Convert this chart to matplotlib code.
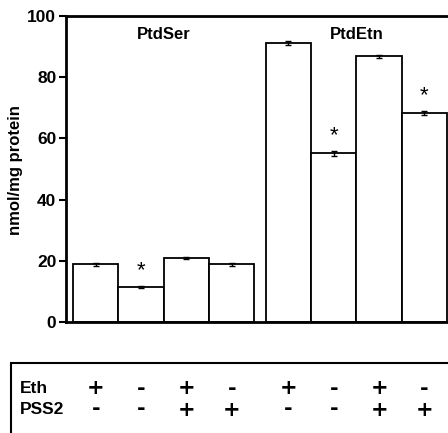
import matplotlib
matplotlib.use("Agg")
import matplotlib.pyplot as plt
from matplotlib.patches import Rectangle
import matplotlib.transforms as mtransforms

plt.rcParams['font.family'] = ['Liberation Sans', 'DejaVu Sans']

groups = ["PtdSer", "PtdEtn"]
values = [18.8, 11.5, 21.0, 18.8, 91.2, 55.2, 86.8, 68.3]
errors = [0.6, 0.4, 0.4, 0.5, 0.6, 0.8, 0.6, 0.7]
significant = [False, True, False, False, False, True, False, True]
eth = ["+", "-", "+", "-", "+", "-", "+", "-"]
pss2 = ["-", "-", "+", "+", "-", "-", "+", "+"]
ylabel = "nmol/mg protein"
yticks = [0, 20, 40, 60, 80, 100]

positions = [0, 1, 2, 3, 4.25, 5.25, 6.25, 7.25]

fig = plt.figure(figsize=(4.48, 4.33), dpi=100)
ax = fig.add_axes([66/448, 111/433, 382/448, 306/433])

ax.bar(positions, values, width=1.0, color="white", edgecolor="black",
       linewidth=1.3, zorder=2)
ax.errorbar(positions, values, yerr=errors, fmt="none", ecolor="black",
            elinewidth=1.0, capsize=2.5, capthick=1.0, zorder=3)

for x, v, e, s in zip(positions, values, errors, significant):
    if s:
        ax.text(x, v + e + 1.5, "*", ha="center", va="bottom", fontsize=16)

ax.text(1.5, 96.5, groups[0], ha="center", va="top", fontsize=12, fontweight="bold")
ax.text(5.75, 96.5, groups[1], ha="center", va="top", fontsize=12, fontweight="bold")

ax.set_xlim(-0.656, 7.77)
ax.set_ylim(0, 100)
ax.set_yticks(yticks)
ax.set_yticklabels([str(t) for t in yticks], fontsize=12.5, fontweight="bold")
ax.set_xticks([])
ax.tick_params(axis="y", direction="out", length=5, width=1.5, pad=2)
for side in ["left", "top", "bottom"]:
    ax.spines[side].set_linewidth(2)
ax.spines["right"].set_visible(False)
ax.set_ylabel(ylabel, fontsize=12, fontweight="bold")
ax.yaxis.set_label_coords(-0.1126, 0.497)

# condition table box
box = Rectangle((11/448, -0.2), 1.0, (433-363)/433 + 0.2, transform=fig.transFigure,
                fill=False, edgecolor="black", linewidth=1.5, clip_on=False)
fig.patches.append(box)

trans = mtransforms.blended_transform_factory(ax.transData, fig.transFigure)
y_eth = 1 - 388.5/433
y_pss = 1 - 409.5/433
fig.text(20/448, y_eth, "Eth", ha="left", va="center", fontsize=12.5, fontweight="bold")
fig.text(20/448, y_pss, "PSS2", ha="left", va="center", fontsize=12.5, fontweight="bold")
for x, a, b in zip(positions, eth, pss2):
    fig.text(x, y_eth, a, transform=trans, ha="center", va="center",
             fontsize=15, fontweight="bold", family="DejaVu Sans")
    fig.text(x, y_pss, b, transform=trans, ha="center", va="center",
             fontsize=15, fontweight="bold", family="DejaVu Sans")

fig.savefig("out.png", dpi=100)
